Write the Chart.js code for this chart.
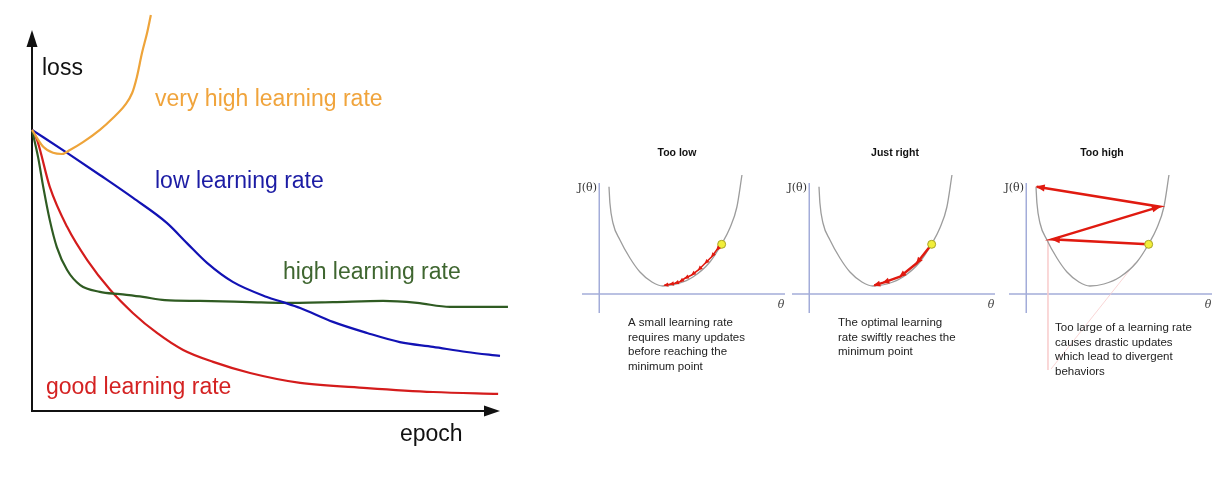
<!DOCTYPE html>
<html><head><meta charset="utf-8">
<script src="https://cdn.jsdelivr.net/npm/chart.js@4.4.1/dist/chart.umd.min.js"></script>
<style>
html,body{margin:0;padding:0;background:#fff;width:1229px;height:477px;overflow:hidden}
.box{position:absolute}
</style></head><body>
<div class="box" style="left:0;top:0;width:520px;height:460px"><canvas id="c0"></canvas></div>
<div class="box" style="left:570px;top:140px;width:220px;height:240px"><canvas id="c1"></canvas></div>
<div class="box" style="left:780px;top:140px;width:220px;height:240px"><canvas id="c2"></canvas></div>
<div class="box" style="left:997px;top:140px;width:220px;height:240px"><canvas id="c3"></canvas></div>
<script>
// ---------- loss vs epoch (left chart) ----------
const goodEpoch = [0,1.1,3.8,7.5,11.8,16.7,21.6,26.7,32.3,38.7,46.6,57.3,71.6,85.7,99.6];
const goodLoss  = [71,68.4,56.6,46.5,38.1,30.6,24.7,19.7,15.4,12.4,9.6,7.1,5.8,4.8,4.3];
const lowEpoch  = [0,7.5,14.5,21.6,28.8,33.1,37.4,42.9,50.2,53.6,57.3,64.3,71.6,78.6,85.7,92.9,100];
const lowLoss   = [71,65.2,59.6,53.8,47.5,42.4,37.4,32.6,28.8,27.5,26.0,22.5,19.7,17.4,16.2,14.9,13.9];
const highEpoch = [0,1.3,2.4,3.8,5.3,7.5,10.3,14.5,18.8,23.7,28.4,35.9,46.6,53.6,64.3,75.0,82.3,89.3,101.7];
const highLoss  = [71,64.1,56.6,48.2,41.4,35.6,31.8,30.1,29.5,28.8,28.0,27.8,27.5,27.3,27.5,27.8,27.3,26.3,26.3];
const veryHighEpoch = [0,2.4,4.5,6.4,8.1,10.9,14.5,17.3,19.9,21.4,22.4,23.5,24.6,25.4];
const veryHighLoss  = [71,66.7,65.2,64.9,65.9,67.9,71.0,74.0,77.3,80.3,84.3,90.4,95.5,100];
const seriesLabels = ["very high learning rate","low learning rate","high learning rate","good learning rate"];

// ---------- J(theta) panels (right) ----------
const curveTheta = [0.96,1.05,1.35,2.04,3.02,4.01,5.19,6.27,7.65,9.23,10.90,12.06,12.87,13.56,14.06];
const curveJ     = [10.73,9.1,7.1,5.4,3.6,2.2,1.2,0.8,1.0,1.7,3.2,5.0,6.6,8.7,11.9];
const startTheta = [12.06];
const startJ     = [4.97];
const lowStepTheta   = [12.06,11.57,11.08,10.43,9.77,9.11,8.44,7.95,7.45,6.96,6.41];
const lowStepJ       = [4.97,4.4,3.73,3.07,2.4,1.9,1.57,1.23,1.07,0.97,0.87];
const rightStepTheta = [12.06,10.58,8.94,7.29,6.40];
const rightStepJ     = [4.97,3.07,1.73,1.13,0.87];
const highStepTheta  = [11.99,2.52,13.17,1.03];
const highStepJ      = [4.97,5.47,8.73,10.73];
const leaderATheta = [2.14,2.14];   const leaderAJ = [5.4,-7.6];
const leaderBTheta = [10.74,2.44];  const leaderBJ = [3.1,-7.5];
const panelTitles = ["Too low","Just right","Too high"];
const panelNotes = [
  ["A small learning rate","requires many updates","before reaching the","minimum point"],
  ["The optimal learning","rate swiftly reaches the","minimum point"],
  ["Too large of a learning rate","causes drastic updates","which lead to divergent","behaviors"]
];

const pts = (xs, ys) => xs.map((x, i) => ({x, y: ys[i]}));

const textPlugin = {
  id: 'texts',
  afterDraw(chart, args, opts) {
    const ctx = chart.ctx;
    ctx.save();
    (opts.items || []).forEach(it => {
      ctx.font = it.font; ctx.fillStyle = it.color;
      ctx.textAlign = it.align || 'left'; ctx.textBaseline = 'middle';
      ctx.fillText(it.text, it.x, it.y);
    });
    ctx.restore();
  }
};

const arrowPlugin = {
  id: 'arrows',
  afterDatasetsDraw(chart, args, opts) {
    if (opts.dataset == null) return;
    const ctx = chart.ctx;
    const els = chart.getDatasetMeta(opts.dataset).data;
    ctx.save();
    ctx.fillStyle = opts.color;
    for (let i = 1; i < els.length; i++) {
      const a = els[i-1], b = els[i];
      const ang = Math.atan2(b.y - a.y, b.x - a.x);
      ctx.save(); ctx.translate(b.x, b.y); ctx.rotate(ang);
      ctx.beginPath(); ctx.moveTo(1, 0); ctx.lineTo(-opts.len, opts.half); ctx.lineTo(-opts.len, -opts.half);
      ctx.closePath(); ctx.fill(); ctx.restore();
    }
    ctx.restore();
  }
};

// main axes with arrowheads
const lossAxes = {
  id: 'lossAxes',
  beforeDatasetsDraw(chart) {
    const ctx = chart.ctx, xs = chart.scales.x, ys = chart.scales.y;
    const x0 = xs.getPixelForValue(0), y0 = ys.getPixelForValue(0);
    const yTop = ys.getPixelForValue(96.2), xEnd = xs.getPixelForValue(100);
    ctx.save();
    ctx.strokeStyle = '#111'; ctx.fillStyle = '#111'; ctx.lineWidth = 2;
    ctx.beginPath(); ctx.moveTo(x0, y0 + 1); ctx.lineTo(x0, yTop + 12); ctx.stroke();
    ctx.beginPath(); ctx.moveTo(x0 - 1, y0); ctx.lineTo(xEnd - 12, y0); ctx.stroke();
    ctx.beginPath(); ctx.moveTo(x0, yTop); ctx.lineTo(x0 - 5.5, yTop + 17); ctx.lineTo(x0 + 5.5, yTop + 17); ctx.closePath(); ctx.fill();
    ctx.beginPath(); ctx.moveTo(xEnd, y0); ctx.lineTo(xEnd - 16, y0 - 5.5); ctx.lineTo(xEnd - 16, y0 + 5.5); ctx.closePath(); ctx.fill();
    ctx.restore();
  }
};

const panelAxes = {
  id: 'panelAxes',
  beforeDatasetsDraw(chart) {
    const ctx = chart.ctx, xs = chart.scales.x, ys = chart.scales.y;
    const x0 = xs.getPixelForValue(0), y0 = ys.getPixelForValue(0);
    ctx.save();
    ctx.strokeStyle = '#a3acd9'; ctx.lineWidth = 1.5;
    ctx.beginPath(); ctx.moveTo(xs.left, y0); ctx.lineTo(xs.right, y0); ctx.stroke();
    ctx.beginPath(); ctx.moveTo(x0, ys.top); ctx.lineTo(x0, ys.bottom); ctx.stroke();
    ctx.restore();
  }
};

const FONT = '"Liberation Sans", Arial, sans-serif';
const lineDs = (label, xs, ys, color) => ({
  label, data: pts(xs, ys), borderColor: color, borderWidth: 2.2,
  pointRadius: 0, cubicInterpolationMode: 'monotone', clip: false, fill: false
});

new Chart(document.getElementById('c0'), {
  type: 'line',
  data: { datasets: [
    lineDs(seriesLabels[0], veryHighEpoch, veryHighLoss, '#eea43a'),
    lineDs(seriesLabels[1], lowEpoch, lowLoss, '#1212b4'),
    lineDs(seriesLabels[2], highEpoch, highLoss, '#2f5b22'),
    lineDs(seriesLabels[3], goodEpoch, goodLoss, '#d41c1c')
  ]},
  options: {
    responsive: true, maintainAspectRatio: false, animation: false,
    layout: { padding: { left: 32, right: 20, top: 15, bottom: 49 } },
    scales: {
      x: { type: 'linear', min: 0, max: 100, display: false },
      y: { type: 'linear', min: 0, max: 100, display: false }
    },
    plugins: {
      legend: { display: false }, tooltip: { enabled: false },
      texts: { items: [
        { text: 'loss', x: 42, y: 69, font: '23px ' + FONT, color: '#111' },
        { text: seriesLabels[0], x: 155, y: 100, font: '23px ' + FONT, color: '#f0a43c' },
        { text: seriesLabels[1], x: 155, y: 182, font: '23px ' + FONT, color: '#1c1ca4' },
        { text: seriesLabels[2], x: 283, y: 273, font: '23px ' + FONT, color: '#3f6630' },
        { text: seriesLabels[3], x: 46, y: 388, font: '23px ' + FONT, color: '#d42222' },
        { text: 'epoch', x: 400, y: 435, font: '23px ' + FONT, color: '#111' }
      ]}
    }
  },
  plugins: [lossAxes, textPlugin]
});

function makePanel(id, k, stepsT, stepsJ, stepWidth, head, titleX, noteY0, extra) {
  const ds = [
    { data: pts(startTheta, startJ), showLine: false, pointRadius: 4, pointBackgroundColor: '#f1ee3a',
      pointBorderColor: '#a9a32a', pointBorderWidth: 1, clip: false },
    { data: pts(stepsT, stepsJ), borderColor: '#e01a10', borderWidth: stepWidth, tension: 0,
      pointRadius: 0, clip: false, fill: false },
    { data: pts(curveTheta, curveJ), borderColor: '#9c9c9c', borderWidth: 1.3,
      cubicInterpolationMode: 'monotone', pointRadius: 0, clip: false, fill: false }
  ].concat(extra || []);
  const items = [
    { text: panelTitles[k], x: titleX, y: 13, font: 'bold 10.5px ' + FONT, color: '#111', align: 'center' },
    { text: 'J(θ)', x: 27, y: 48, font: '11px "DejaVu Serif", serif', color: '#333', align: 'right' },
    { text: 'θ', x: 211, y: 165, font: 'italic 11px "DejaVu Serif", serif', color: '#444', align: 'center' }
  ];
  panelNotes[k].forEach((t, i) => items.push({ text: t, x: 58, y: noteY0 + i * 14.6, font: '11.5px ' + FONT, color: '#222' }));
  new Chart(document.getElementById(id), {
    type: 'line',
    data: { datasets: ds },
    options: {
      responsive: true, maintainAspectRatio: false, animation: false,
      layout: { padding: { left: 12, right: 5, top: 43, bottom: 67 } },
      scales: {
        x: { type: 'linear', min: -1.7, max: 18.3, display: false },
        y: { type: 'linear', min: -1.9, max: 11.1, display: false }
      },
      plugins: {
        legend: { display: false }, tooltip: { enabled: false },
        arrows: { dataset: 1, color: '#e01a10', len: head[0], half: head[1] },
        texts: { items }
      }
    },
    plugins: [panelAxes, arrowPlugin, textPlugin]
  });
}

makePanel('c1', 0, lowStepTheta, lowStepJ, 1.6, [4, 2.2], 107, 183);
makePanel('c2', 1, rightStepTheta, rightStepJ, 2.4, [6, 3], 115, 183);
makePanel('c3', 2, highStepTheta, highStepJ, 2.4, [8, 3.5], 105, 188, [
  { data: pts(leaderATheta, leaderAJ), borderColor: '#f8cccc', borderWidth: 0.8, pointRadius: 0, tension: 0, clip: false },
  { data: pts(leaderBTheta, leaderBJ), borderColor: '#f8cccc', borderWidth: 0.8, pointRadius: 0, tension: 0, clip: false }
]);
</script>
</body></html>
